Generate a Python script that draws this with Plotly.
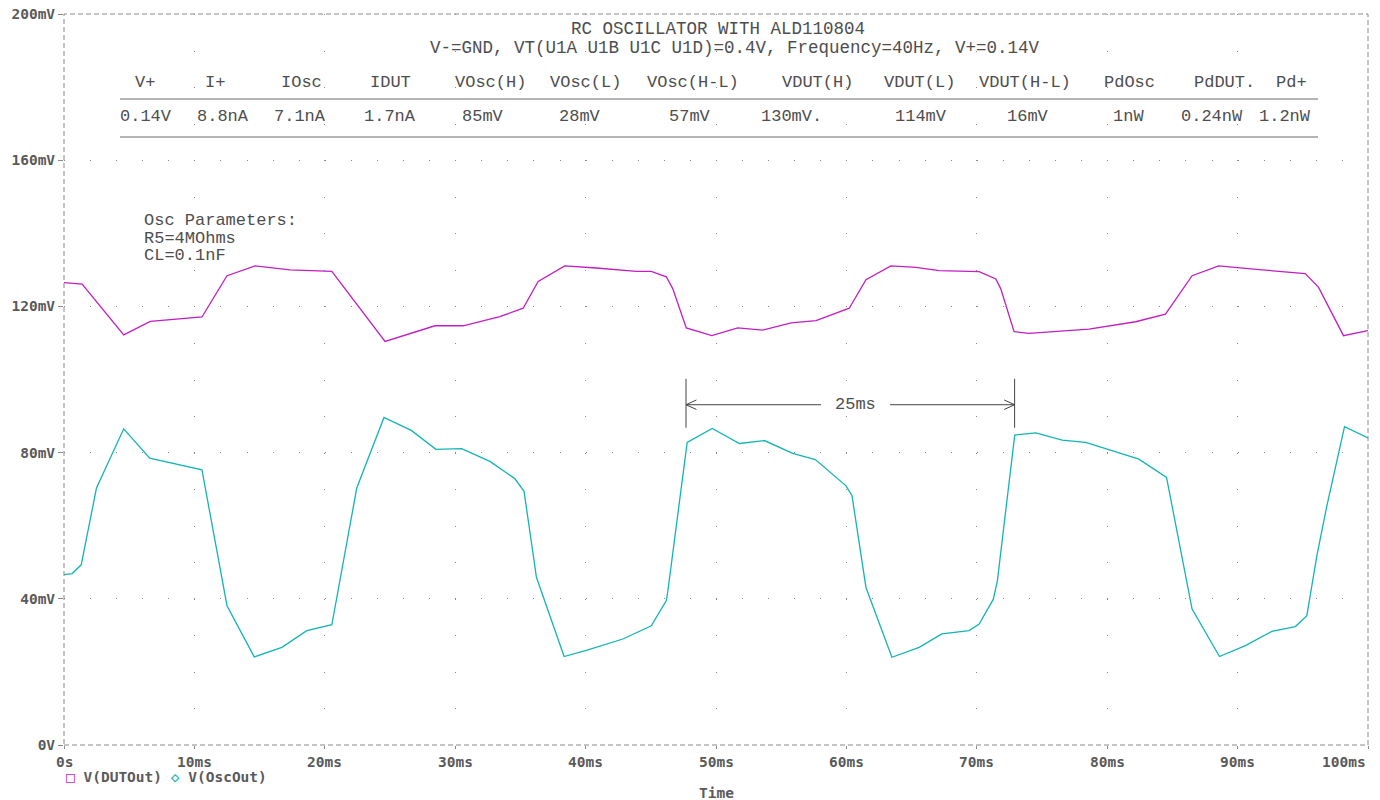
import plotly.graph_objects as go

# ---------------- data ----------------
T_DUT = [0, 1.39, 4.58, 6.62, 10.58, 12.50, 14.66, 17.34, 20.54, 24.62, 28.45, 30.61, 33.42, 35.21, 36.36,
         38.40, 40.83, 43.89, 45.04, 46.19, 46.69, 47.72, 49.68, 51.67, 53.58, 55.76, 57.67, 60.22, 61.50,
         63.41, 65.33, 67.11, 70.18, 71.46, 71.84, 72.86, 74.01, 78.60, 82.18, 84.47, 86.51, 88.55, 91.87,
         95.19, 96.21, 98.12, 100]
V_DUT = [126.5, 126.1, 112.2, 115.9, 117.1, 128.4, 131.1, 130.0, 129.6, 110.4, 114.7, 114.7, 117.2, 119.5, 126.8,
         131.1, 130.5, 129.6, 129.6, 128.1, 124.8, 114.1, 112.0, 114.1, 113.5, 115.5, 116.1, 119.5, 127.3,
         131.1, 130.7, 129.8, 129.5, 127.5, 124.8, 113.1, 112.6, 113.8, 115.8, 117.9, 128.4, 131.1, 130.0,
         129.0, 125.2, 112.0, 113.4]

T_OSC = [0, 0.63, 1.32, 2.49, 4.58, 6.57, 10.58, 12.50, 14.59, 16.71, 18.62, 20.54, 22.45, 24.54, 26.66,
         28.52, 30.49, 32.66, 34.57, 35.28, 36.23, 38.35, 40.18, 42.86, 45.04, 46.19, 46.31, 47.79, 49.71,
         51.80, 53.71, 55.88, 57.62, 59.97, 60.43, 61.50, 63.49, 65.58, 67.32, 69.41, 70.18, 71.27, 71.58,
         72.91, 74.52, 76.55, 78.35, 82.43, 84.55, 86.51, 88.61, 90.60, 92.63, 94.43, 95.31, 96.08, 96.85,
         98.20, 100]
V_OSC = [46.6, 46.9, 49.3, 70.3, 86.5, 78.5, 75.3, 38.1, 24.1, 26.7, 31.3, 32.9, 70.3, 89.6, 86.0,
         80.9, 81.1, 77.6, 72.9, 69.4, 45.9, 24.2, 26.0, 29.0, 32.6, 39.5, 42.2, 82.8, 86.6,
         82.5, 83.3, 79.8, 78.1, 70.9, 68.2, 43.1, 24.0, 26.7, 30.4, 31.3, 33.1, 39.9, 45.0,
         84.8, 85.4, 83.4, 82.8, 78.2, 73.2, 37.2, 24.2, 27.2, 31.1, 32.4, 35.4, 51.8, 65.5,
         87.1, 84.0]

SERIES = ["V(DUTOut)", "V(OscOut)"]

X_TICKS = [0, 10, 20, 30, 40, 50, 60, 70, 80, 90, 100]
X_TICK_LABELS = ["0s", "10ms", "20ms", "30ms", "40ms", "50ms", "60ms", "70ms", "80ms", "90ms", "100ms"]
Y_TICKS = [0, 40, 80, 120, 160, 200]
Y_TICK_LABELS = ["0V", "40mV", "80mV", "120mV", "160mV", "200mV"]

TITLE_1 = "RC OSCILLATOR WITH ALD110804"
TITLE_2 = "V-=GND, VT(U1A U1B U1C U1D)=0.4V, Frequency=40Hz, V+=0.14V"

TABLE_HEAD = ["V+", "I+", "IOsc", "IDUT", "VOsc(H)", "VOsc(L)", "VOsc(H-L)", "VDUT(H)", "VDUT(L)",
              "VDUT(H-L)", "PdOsc", "PdDUT.", "Pd+"]
TABLE_VALS = ["0.14V", "8.8nA", "7.1nA", "1.7nA", "85mV", "28mV", "57mV", "130mV.", "114mV",
              "16mV", "1nW", "0.24nW", "1.2nW"]

OSC_PARAMS = ["Osc Parameters:", "R5=4MOhms", "CL=0.1nF"]

PERIOD_T0 = 47.7
PERIOD_T1 = 72.9
PERIOD_LABEL = "25ms"

# ---------------- layout / style ----------------
W, H = 1380, 800
ML, MR, MT, MB = 64, 12, 14, 55
PW = W - ML - MR   # 1304
PH = H - MT - MB   # 731

C_DUT = "#c21ec2"
C_OSC = "#14b4b4"
GRID = "#8a8a8a"
TXT = "#4e4e4e"
TICK_TXT = "#5a5a5a"
BOLD_FONT = dict(family="DejaVu Sans Mono", size=14.5, color=TICK_TXT, weight="bold")

HEAD_X = [6.2, 11.6, 18.2, 25.0, 32.7, 40.0, 48.2, 57.8, 65.6, 73.7, 81.7, 89.0, 94.1]
VAL_X = [6.3, 12.2, 18.1, 25.0, 32.1, 39.6, 48.0, 55.8, 65.7, 73.9, 81.6, 88.0, 93.6]

def py(pix):
    """convert a pixel row in the figure to paper y"""
    return (MT + PH - pix) / PH

def px(pix):
    return (pix - ML) / PW

fig = go.Figure()
fig.add_trace(go.Scatter(x=T_DUT, y=V_DUT, mode="lines", name=SERIES[0],
                         line=dict(color=C_DUT, width=1.3), showlegend=False))
fig.add_trace(go.Scatter(x=T_OSC, y=V_OSC, mode="lines", name=SERIES[1],
                         line=dict(color=C_OSC, width=1.3), showlegend=False))

dot_x = PW / 50.0   # 2 ms spacing
dot_y = PH / 20.0   # 10 mV spacing

fig.update_xaxes(range=[0, 100], tickvals=X_TICKS, showticklabels=False,
                 ticks="outside", ticklen=3, tickcolor=GRID,
                 showgrid=True, gridcolor=GRID, gridwidth=1,
                 griddash="1px,%.2fpx" % (dot_y - 1),
                 showline=False, zeroline=False, fixedrange=True)
fig.update_yaxes(range=[0, 200], tickvals=Y_TICKS, ticktext=Y_TICK_LABELS,
                 ticks="outside", ticklen=5, tickcolor=GRID,
                 tickfont=BOLD_FONT,
                 showgrid=True, gridcolor=GRID, gridwidth=1,
                 griddash="1px,%.2fpx" % (dot_x - 1),
                 showline=False, zeroline=False, fixedrange=True)

shapes = []
frame = dict(type="rect", xref="paper", yref="paper", x0=0, x1=1, y0=0, y1=1,
             line=dict(color=GRID, width=1, dash="5px,3px"), layer="above")
shapes.append(frame)

# table rules
for yy in (99, 137):
    shapes.append(dict(type="line", xref="paper", yref="paper", x0=px(120), x1=px(1318),
                       y0=py(yy), y1=py(yy), line=dict(color="#6a6a6a", width=1)))

# period marker
ANN_C = "#444444"
y_top, y_bot, y_arr = 100.2, 86.8, 93.1
for t in (PERIOD_T0, PERIOD_T1):
    shapes.append(dict(type="line", xref="x", yref="y", x0=t, x1=t, y0=y_bot, y1=y_top,
                       line=dict(color=ANN_C, width=1)))
mid = (PERIOD_T0 + PERIOD_T1) / 2 + 0.4
gap = 2.35
shapes.append(dict(type="line", xref="x", yref="y", x0=PERIOD_T0, x1=mid - gap - 0.3, y0=y_arr, y1=y_arr,
                   line=dict(color=ANN_C, width=1)))
shapes.append(dict(type="line", xref="x", yref="y", x0=mid + gap + 0.3, x1=PERIOD_T1, y0=y_arr, y1=y_arr,
                   line=dict(color=ANN_C, width=1)))
ah_dx, ah_dy = 0.8, 1.3
for t, s in ((PERIOD_T0, 1), (PERIOD_T1, -1)):
    shapes.append(dict(type="path", xref="x", yref="y",
                       path="M %f,%f L %f,%f L %f,%f" % (t + s * ah_dx, y_arr + ah_dy, t, y_arr,
                                                         t + s * ah_dx, y_arr - ah_dy),
                       line=dict(color=ANN_C, width=1)))

annotations = []
MONO = "Liberation Mono"
# titles
annotations.append(dict(text=TITLE_1, xref="paper", yref="paper", x=px(717.5), y=py(28.5),
                        xanchor="center", yanchor="middle", showarrow=False,
                        font=dict(family=MONO, size=17.5, color=TXT)))
annotations.append(dict(text=TITLE_2, xref="paper", yref="paper", x=px(734.5), y=py(48.5),
                        xanchor="center", yanchor="middle", showarrow=False,
                        font=dict(family=MONO, size=17.5, color=TXT)))
# table
for h, xh in zip(TABLE_HEAD, HEAD_X):
    annotations.append(dict(text=h, xref="x", yref="paper", x=xh, y=py(82.7), xanchor="center",
                            yanchor="middle", showarrow=False, font=dict(family=MONO, size=17, color=TXT)))
for v, xv in zip(TABLE_VALS, VAL_X):
    annotations.append(dict(text=v, xref="x", yref="paper", x=xv, y=py(116.7), xanchor="center",
                            yanchor="middle", showarrow=False, font=dict(family=MONO, size=17, color=TXT)))
# osc parameters
for line, yy in zip(OSC_PARAMS, (220, 238, 255)):
    annotations.append(dict(text=line, xref="paper", yref="paper", x=px(142), y=py(yy), xanchor="left",
                            yanchor="middle", showarrow=False, font=dict(family=MONO, size=17, color=TXT)))
# period label
annotations.append(dict(text=PERIOD_LABEL, xref="x", yref="y", x=mid, y=y_arr, xanchor="center",
                        yanchor="middle", showarrow=False, font=dict(family=MONO, size=17, color=TXT)))
# x tick labels
for i, (tv, tl) in enumerate(zip(X_TICKS, X_TICK_LABELS)):
    anchor = "right" if i == len(X_TICKS) - 1 else "center"
    annotations.append(dict(text=tl, xref="x", yref="paper", x=tv, y=py(762), xanchor=anchor,
                            yanchor="middle", showarrow=False, font=BOLD_FONT))
# legend
leg = ("<span style='color:%s'>□</span> %s <span style='color:%s'>◇</span> %s"
       % (C_DUT, SERIES[0], C_OSC, SERIES[1]))
annotations.append(dict(text=leg, xref="paper", yref="paper", x=px(64), y=py(777), xanchor="left",
                        yanchor="middle", showarrow=False, font=BOLD_FONT))
# axis title
annotations.append(dict(text="Time", xref="paper", yref="paper", x=px(716), y=py(793), xanchor="center",
                        yanchor="middle", showarrow=False, font=BOLD_FONT))

fig.update_layout(width=W, height=H, margin=dict(l=ML, r=MR, t=MT, b=MB, autoexpand=False),
                  paper_bgcolor="white", plot_bgcolor="white",
                  shapes=shapes, annotations=annotations, showlegend=False)

fig.write_html("out.html", config={"displayModeBar": False})
